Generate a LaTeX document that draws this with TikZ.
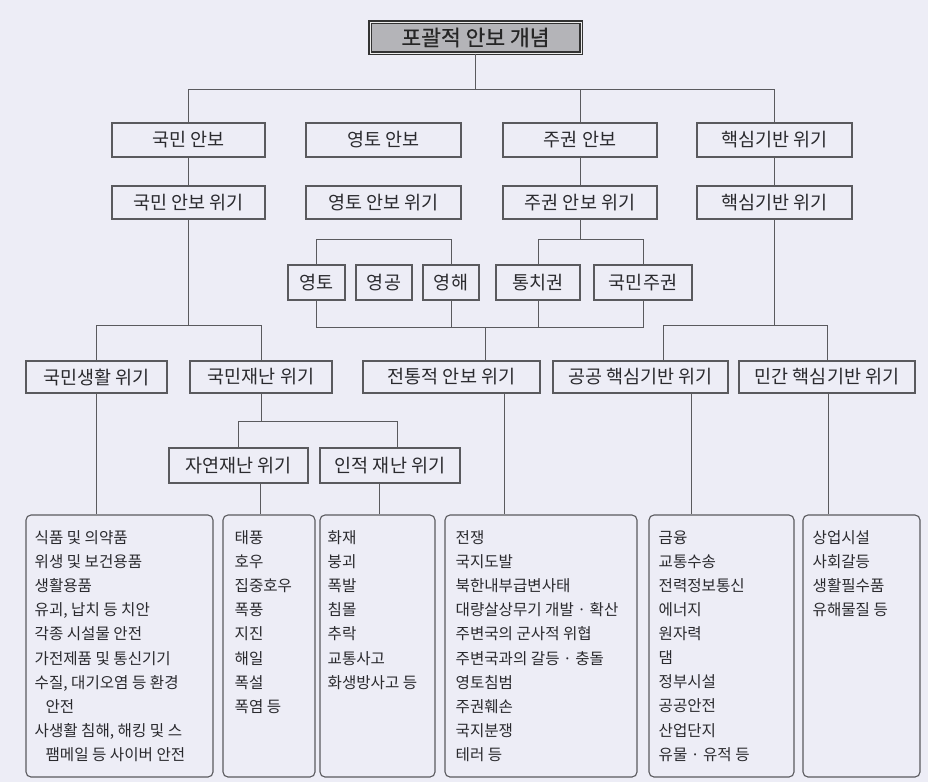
\documentclass[tikz,border=0pt]{standalone}
\usepackage{fontspec}
\setmainfont{Noto Sans CJK KR}
\newfontfamily\heavyfont{Noto Sans CJK KR}[FakeBold=0.6]
\definecolor{bgc}{HTML}{EDEDF6}
\definecolor{linec}{HTML}{5A5A5E}
\definecolor{txt}{HTML}{2A2A2E}
\definecolor{titlefill}{HTML}{B4B4B8}
\begin{document}
\begin{tikzpicture}[x=1pt,y=-1pt,
  box/.style={draw=linec, line width=1.1pt, rectangle, inner sep=0pt, font=\fontsize{18.5}{21}\selectfont, text=txt},
  lst/.style={draw=linec, line width=1.1pt, rounded corners=5pt, rectangle, inner sep=0pt},
  lsttxt/.style={anchor=north west, align=left, inner sep=0pt, font=\fontsize{15.6}{24.1}\selectfont, text=txt},
  con/.style={draw=linec, line width=0.9pt}]
\fill[bgc] (0,0) rectangle (928,782);
\useasboundingbox (0,0) rectangle (928,782);
% title
\node[box, draw=black!80, line width=1.2pt, double=white!85!gray, double distance=1pt, fill=titlefill,
  minimum width=211pt, minimum height=31pt, font=\heavyfont\fontsize{21.5}{24}\selectfont, text=black!85] (title) at (475.5,37.5) {포괄적 안보 개념};
% row 1
\node[box, minimum width=153pt, minimum height=34pt] (ga) at (188.5,140) {국민 안보};
\node[box, minimum width=155pt, minimum height=34pt] (gb) at (383.5,140) {영토 안보};
\node[box, minimum width=154pt, minimum height=34pt] (gc) at (580,140) {주권 안보};
\node[box, minimum width=155pt, minimum height=34pt] (gd) at (774.5,140) {핵심기반 위기};
% row 2
\node[box, minimum width=153pt, minimum height=33pt] (ga2) at (188.5,202.5) {국민 안보 위기};
\node[box, minimum width=155pt, minimum height=33pt] (gb2) at (383.5,202.5) {영토 안보 위기};
\node[box, minimum width=154pt, minimum height=33pt] (gc2) at (580,202.5) {주권 안보 위기};
\node[box, minimum width=155pt, minimum height=33pt] (gd2) at (774.5,202.5) {핵심기반 위기};
% row 3
\node[box, minimum width=57pt, minimum height=35pt] (c3a) at (316.5,282.5) {영토};
\node[box, minimum width=56pt, minimum height=35pt] (c3b) at (384,282.5) {영공};
\node[box, minimum width=56pt, minimum height=35pt] (c3c) at (451,282.5) {영해};
\node[box, minimum width=84pt, minimum height=35pt] (c3d) at (538,282.5) {통치권};
\node[box, minimum width=98pt, minimum height=35pt] (c3e) at (643,282.5) {국민주권};
% row 4
\node[box, minimum width=141pt, minimum height=32pt] (r4a) at (96.5,377) {국민생활 위기};
\node[box, minimum width=142pt, minimum height=32pt] (r4b) at (261,377) {국민재난 위기};
\node[box, minimum width=177pt, minimum height=32pt] (r4c) at (451.5,377) {전통적 안보 위기};
\node[box, minimum width=175pt, minimum height=32pt] (r4d) at (640.5,377) {공공 핵심기반 위기};
\node[box, minimum width=176pt, minimum height=32pt] (r4e) at (827,377) {민간 핵심기반 위기};
% row 5
\node[box, minimum width=139pt, minimum height=35pt] (r5a) at (238.5,465.5) {자연재난 위기};
\node[box, minimum width=140pt, minimum height=35pt] (r5b) at (390,465.5) {인적 재난 위기};
% bottom lists
\node[lst, minimum width=187pt, minimum height=262pt] (b1) at (119.5,646) {};
\node[lst, minimum width=92pt, minimum height=262pt] (b2) at (269,646) {};
\node[lst, minimum width=115pt, minimum height=262pt] (b3) at (377.5,646) {};
\node[lst, minimum width=192pt, minimum height=262pt] (b4) at (541,646) {};
\node[lst, minimum width=145pt, minimum height=262pt] (b5) at (721.5,646) {};
\node[lst, minimum width=117pt, minimum height=262pt] (b6) at (861.5,646) {};
\node[lsttxt] (b1t) at ([xshift=9pt,yshift=-16pt]b1.north west) {식품 및 의약품\\위생 및 보건용품\\생활용품\\유괴, 납치 등 치안\\각종 시설물 안전\\가전제품 및 통신기기\\수질, 대기오염 등 환경\\\hspace*{0.7em}안전\\사생활 침해, 해킹 및 스\\\hspace*{0.7em}팸메일 등 사이버 안전};
\node[lsttxt] (b2t) at ([xshift=12pt,yshift=-16pt]b2.north west) {태풍\\호우\\집중호우\\폭풍\\지진\\해일\\폭설\\폭염 등};
\node[lsttxt] (b3t) at ([xshift=8pt,yshift=-16pt]b3.north west) {화재\\붕괴\\폭발\\침몰\\추락\\교통사고\\화생방사고 등};
\node[lsttxt] (b4t) at ([xshift=11pt,yshift=-16pt]b4.north west) {전쟁\\국지도발\\북한내부급변사태\\대량살상무기 개발 · 확산\\주변국의 군사적 위협\\주변국과의 갈등 · 충돌\\영토침범\\주권훼손\\국지분쟁\\테러 등};
\node[lsttxt] (b5t) at ([xshift=10pt,yshift=-16pt]b5.north west) {금융\\교통수송\\전력정보통신\\에너지\\원자력\\댐\\정부시설\\공공안전\\산업단지\\유물 · 유적 등};
\node[lsttxt] (b6t) at ([xshift=10pt,yshift=-16pt]b6.north west) {상업시설\\사회갈등\\생활필수품\\유해물질 등};
% helper levels
\coordinate (h1) at (0,89);
\coordinate (h3) at (0,239);
\coordinate (h4) at (0,325);
\coordinate (h4b) at (0,327);
\coordinate (h5) at (0,421);
% connectors
\draw[con] (title.south) -- (title.south |- h1);
\draw[con] (ga.north) -- (ga.north |- h1) -- (gd.north |- h1) -- (gd.north);
\draw[con] (gc.north) -- (gc.north |- h1);
\draw[con] (ga.south) -- (ga2.north);
\draw[con] (gc.south) -- (gc2.north);
\draw[con] (gd.south) -- (gd2.north);
\draw[con] (gc2.south) -- (gc2.south |- h3);
\draw[con] (c3d.north) -- (c3d.north |- h3) -- (c3e.north |- h3) -- (c3e.north);
\draw[con] (c3a.north) -- (c3a.north |- h3) -- (c3c.north |- h3) -- (c3c.north);
\draw[con] (c3a.south) -- (c3a.south |- h4b) -- (c3e.south |- h4b) -- (c3e.south);
\draw[con] (c3c.south) -- (c3c.south |- h4b);
\draw[con] (c3d.south) -- (c3d.south |- h4b);
\draw[con] ([xshift=33.5pt]r4c.north) -- ([xshift=33.5pt]r4c.north |- h4b);
\draw[con] (ga2.south) -- (ga2.south |- h4);
\draw[con] (r4a.north) -- (r4a.north |- h4) -- (r4b.north |- h4) -- (r4b.north);
\draw[con] (gd2.south) -- (gd2.south |- h4);
\draw[con] ([xshift=22.5pt]r4d.north) -- ([xshift=22.5pt]r4d.north |- h4) -- (r4e.north |- h4) -- (r4e.north);
\draw[con] (r4b.south) -- (r4b.south |- h5);
\draw[con] (r5a.north) -- (r5a.north |- h5) -- ([xshift=7pt]r5b.north |- h5) -- ([xshift=7pt]r5b.north);
\draw[con] (r4a.south) -- (r4a.south |- b1.north);
\draw[con] ([xshift=21.5pt]r5a.south) -- ([xshift=21.5pt]r5a.south |- b2.north);
\draw[con] ([xshift=-11pt]r5b.south) -- ([xshift=-11pt]r5b.south |- b3.north);
\draw[con] ([xshift=52.5pt]r4c.south) -- ([xshift=52.5pt]r4c.south |- b4.north);
\draw[con] ([xshift=50.5pt]r4d.south) -- ([xshift=50.5pt]r4d.south |- b5.north);
\draw[con] ([xshift=1pt]r4e.south) -- ([xshift=1pt]r4e.south |- b6.north);
\end{tikzpicture}
\end{document}
